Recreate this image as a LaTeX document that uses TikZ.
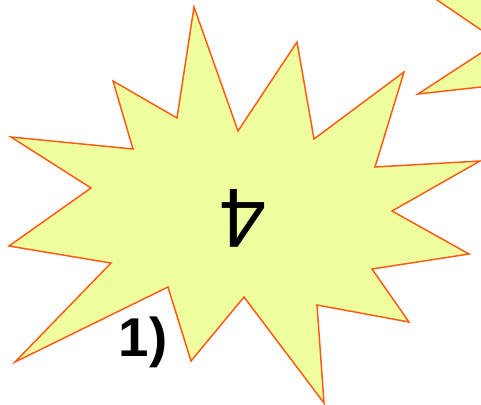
\documentclass[tikz,border=0pt]{standalone}
\usepackage{fontspec}
\setmainfont{Liberation Sans}
\definecolor{burstfill}{RGB}{238,253,158}
\definecolor{burstline}{RGB}{250,90,20}
\tikzset{
  burst/.style={fill=burstfill, draw=burstline, line width=1.1pt, line join=miter},
  bigdigit/.style={font=\fontsize{63}{63}\selectfont, inner sep=0pt, rotate=180},
  caption/.style={font=\fontsize{41}{41}\selectfont\bfseries, inner sep=0pt, anchor=base}
}
\begin{document}
\begin{tikzpicture}[x=0.75pt,y=-0.75pt]
\useasboundingbox (0,0) rectangle (481,404);
\clip (0,0) rectangle (481,404);
% partial burst top right
\draw[burst] (429.7,-5) -- (496,40) -- (520,40) -- (520,-20) -- (420,-20) -- cycle;
\draw[burst] (500,40.6) -- (418,94) -- (500,84.9) -- cycle;
% main burst
\draw[burst] (194,7) -- (238,131) -- (297,42) -- (314,139) -- (404,72) -- (375,167)
  -- (480,161) -- (392,211) -- (469,254) -- (372,269) -- (409,322) -- (317,305)
  -- (324,403) -- (244,297) -- (191,361) -- (168,287) -- (15,362) -- (111,263)
  -- (9,246) -- (91,188) -- (11,137) -- (133,149) -- (113,81) -- (177,118) -- cycle;
\node[bigdigit] (four) at (243,218) {4};
\node[caption] (lbl) at (143,356) {1)};
\end{tikzpicture}
\end{document}
